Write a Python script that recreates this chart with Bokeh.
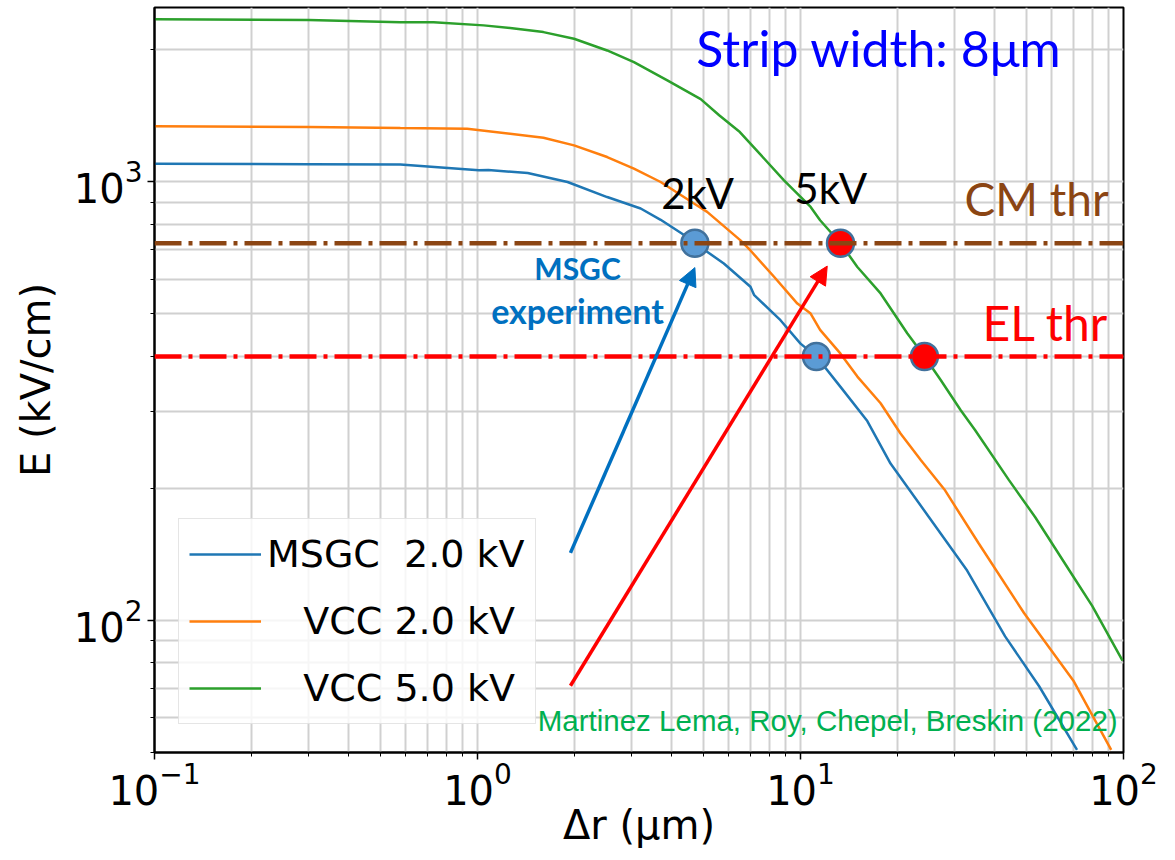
from bokeh.plotting import figure
from bokeh.models import (FixedTicker, Span, Label, Arrow, NormalHead, Legend,
                          LegendItem, Range1d)
from bokeh.embed import file_html
from bokeh.resources import INLINE

# ---------------- data ----------------
msgc2_x = [0.1, 0.3, 0.577, 1.01, 1.08, 1.43, 1.90, 2.52, 3.20, 3.69, 4.47, 4.71, 5.79,
           7.0, 7.19, 8.67, 10.0, 11.2, 13.3, 16.1, 19.0, 25.0, 32.8, 43.0, 54.8, 71.8]
msgc2_E = [1100, 1098, 1096, 1063, 1065, 1048, 1000, 924, 870, 820, 748, 725, 652,
           577, 552, 484, 428, 400, 341, 285, 228, 172, 130, 92, 70.8, 50.7]

vcc2_x = [0.1, 0.3, 0.577, 0.929, 1.60, 1.99, 2.52, 3.05, 3.69, 4.68, 5.14, 6.52, 7.0,
          8.28, 9.78, 10.75, 11.5, 13.3, 15.0, 17.7, 20.4, 23.6, 27.9, 35.6, 49.2, 69.9, 91.6]
vcc2_E = [1340, 1335, 1327, 1323, 1262, 1212, 1140, 1073, 1000, 893, 855, 736, 698,
          608, 528, 501, 460, 406, 360, 313, 267, 232, 199, 150, 104, 73, 50.7]

vcc5_x = [0.1, 0.3, 0.577, 0.731, 1.045, 1.30, 1.60, 1.99, 2.52, 3.05, 3.87, 4.91, 5.6,
          6.49, 8.89, 10.75, 11.5, 13.3, 15.0, 17.7, 21.4, 24.2, 27.2, 31.3, 34.7, 44.2,
          53.3, 69.9, 80, 99.3]
vcc5_E = [2350, 2340, 2314, 2314, 2276, 2240, 2197, 2122, 1995, 1876, 1705, 1545, 1420,
          1300, 1009, 877, 818, 725, 640, 557, 452, 400, 353, 302, 272, 209,
          172, 126, 108, 81]

series_labels = ["MSGC  2.0 kV", "\u00a0\u00a0\u00a0VCC 2.0 kV", "\u00a0\u00a0\u00a0VCC 5.0 kV"]

cm_thr = 725
el_thr = 400

msgc_pts_x = [4.71, 11.2]
msgc_pts_E = [cm_thr, el_thr]
vcc5_pts_x = [13.3, 24.2]
vcc5_pts_E = [cm_thr, el_thr]

arrow_blue = [1.94, 142.6, 4.71, 638]
arrow_red = [1.94, 71, 12.1, 643]

x_major = [0.1, 1, 10, 100]
x_minor = [0.2, 0.3, 0.4, 0.5, 0.6, 0.7, 0.8, 0.9, 2, 3, 4, 5, 6, 7, 8, 9,
           20, 30, 40, 50, 60, 70, 80, 90]
y_major = [100, 1000]
y_minor = [50, 60, 70, 80, 90, 200, 300, 400, 500, 600, 700, 800, 900, 2000]
x_tick_labels = {"0.1": "10\u207b\u00b9", "1": "10\u2070", "10": "10\u00b9", "100": "10\u00b2"}
y_tick_labels = {"100": "10\u00b2", "1000": "10\u00b3"}

# ---------------- figure ----------------
p = figure(width=1175, height=860, x_axis_type="log", y_axis_type="log",
           output_backend="svg", toolbar_location=None,
           min_border_left=154, min_border_right=52, min_border_top=7,
           min_border_bottom=108)
p.x_range = Range1d(0.1, 100)
p.y_range = Range1d(50, 2500)
p.background_fill_color = "white"
p.border_fill_color = "white"
p.outline_line_color = "black"
p.outline_line_width = 2

xt = FixedTicker(ticks=x_major, minor_ticks=x_minor)
yt = FixedTicker(ticks=y_major, minor_ticks=y_minor)
p.xaxis.ticker = xt
p.yaxis.ticker = yt
p.xgrid.ticker = xt
p.ygrid.ticker = yt
for g in (p.xgrid, p.ygrid):
    g.grid_line_color = "#d0d0d0"
    g.grid_line_width = 2
    g.minor_grid_line_color = "#d0d0d0"
    g.minor_grid_line_width = 2

p.xaxis.major_label_overrides = x_tick_labels
p.yaxis.major_label_overrides = y_tick_labels
for ax in (p.xaxis, p.yaxis):
    ax.axis_line_color = "black"
    ax.axis_line_width = 2
    ax.major_tick_in = 0
    ax.major_tick_out = 7
    ax.minor_tick_in = 0
    ax.minor_tick_out = 4
    ax.major_tick_line_width = 1.5
    ax.minor_tick_line_width = 1
    ax.major_label_text_font = "DejaVu Sans"
    ax.major_label_text_font_size = "40px"
    ax.major_label_text_color = "black"
    ax.axis_label_text_font = "DejaVu Sans"
    ax.axis_label_text_font_size = "40px"
    ax.axis_label_text_font_style = "normal"
    ax.axis_label_text_color = "black"
p.xaxis.axis_label = "\u0394r (\u03bcm)"
p.yaxis.axis_label = "E (kV/cm)"
p.xaxis.major_label_standoff = 2
p.yaxis.major_label_standoff = 5
p.xaxis.axis_label_standoff = -6
p.yaxis.axis_label_standoff = 12

# threshold lines
p.add_layout(Span(location=cm_thr, dimension="width", line_color="#8B4513",
                  line_width=4.5, line_dash="27 7 4 7"))
p.add_layout(Span(location=el_thr, dimension="width", line_color="#ff0000",
                  line_width=4.5, line_dash="27 7 4 7"))

r1 = p.line(msgc2_x, msgc2_E, line_color="#1f77b4", line_width=2.5)
r2 = p.line(vcc2_x, vcc2_E, line_color="#ff7f0e", line_width=2.5)
r3 = p.line(vcc5_x, vcc5_E, line_color="#2ca02c", line_width=2.5)

legend = Legend(items=[LegendItem(label=series_labels[0], renderers=[r1]),
                       LegendItem(label=series_labels[1], renderers=[r2]),
                       LegendItem(label=series_labels[2], renderers=[r3])],
                location=(24, 28))
legend.label_text_font = "DejaVu Sans"
legend.label_text_font_size = "38px"
legend.label_text_color = "black"
legend.label_height = 50
legend.glyph_height = 50
legend.glyph_width = 72
legend.label_standoff = 6
legend.spacing = 17
legend.padding = 10
legend.border_line_color = "#cccccc"
legend.border_line_width = 1.5
legend.background_fill_color = "white"
legend.background_fill_alpha = 0.8
p.add_layout(legend)

# arrows
p.add_layout(Arrow(x_start=arrow_blue[0], y_start=arrow_blue[1], x_end=arrow_blue[2],
                   y_end=arrow_blue[3], line_color="#0070c0", line_width=3.5,
                   end=NormalHead(size=18, fill_color="#0070c0", line_color="#0070c0")))
p.add_layout(Arrow(x_start=arrow_red[0], y_start=arrow_red[1], x_end=arrow_red[2],
                   y_end=arrow_red[3], line_color="#ff0000", line_width=3.5,
                   end=NormalHead(size=18, fill_color="#ff0000", line_color="#ff0000")))

# markers
p.scatter(msgc_pts_x, msgc_pts_E, marker="circle", size=27, fill_color="#5b9bd5",
          line_color="#41719c", line_width=2.5)
p.scatter(vcc5_pts_x, vcc5_pts_E, marker="circle", size=27, fill_color="#ff0000",
          line_color="#41719c", line_width=2.5)

# texts
def lab(x, y, text, color, size, align="center", font="Lato", style="normal"):
    p.add_layout(Label(x=x, y=y, text=text, text_color=color, text_font=font,
                       text_font_size=size, text_align=align, text_baseline="middle",
                       text_font_style=style))

lab(17.5, 2017, "Strip width: 8\u03bcm", "#0000ff", "50px")
lab(4.8, 942, "2kV", "black", "42px")
lab(12.4, 968, "5kV", "black", "42px")
lab(90, 918, "CM thr", "#8B4513", "46px", align="right")
lab(90, 479, "EL thr", "#ff0000", "48px", align="right")
lab(2.04, 635, "MSGC", "#0070c0", "30px", style="bold")
lab(2.04, 508, "experiment", "#0070c0", "34px", style="bold")
lab(95.9, 59.1, "Martinez Lema, Roy, Chepel, Breskin (2022)", "#00b050", "29.5px",
    align="right", font="Liberation Sans")

open("out.html", "w").write(file_html(p, INLINE))
